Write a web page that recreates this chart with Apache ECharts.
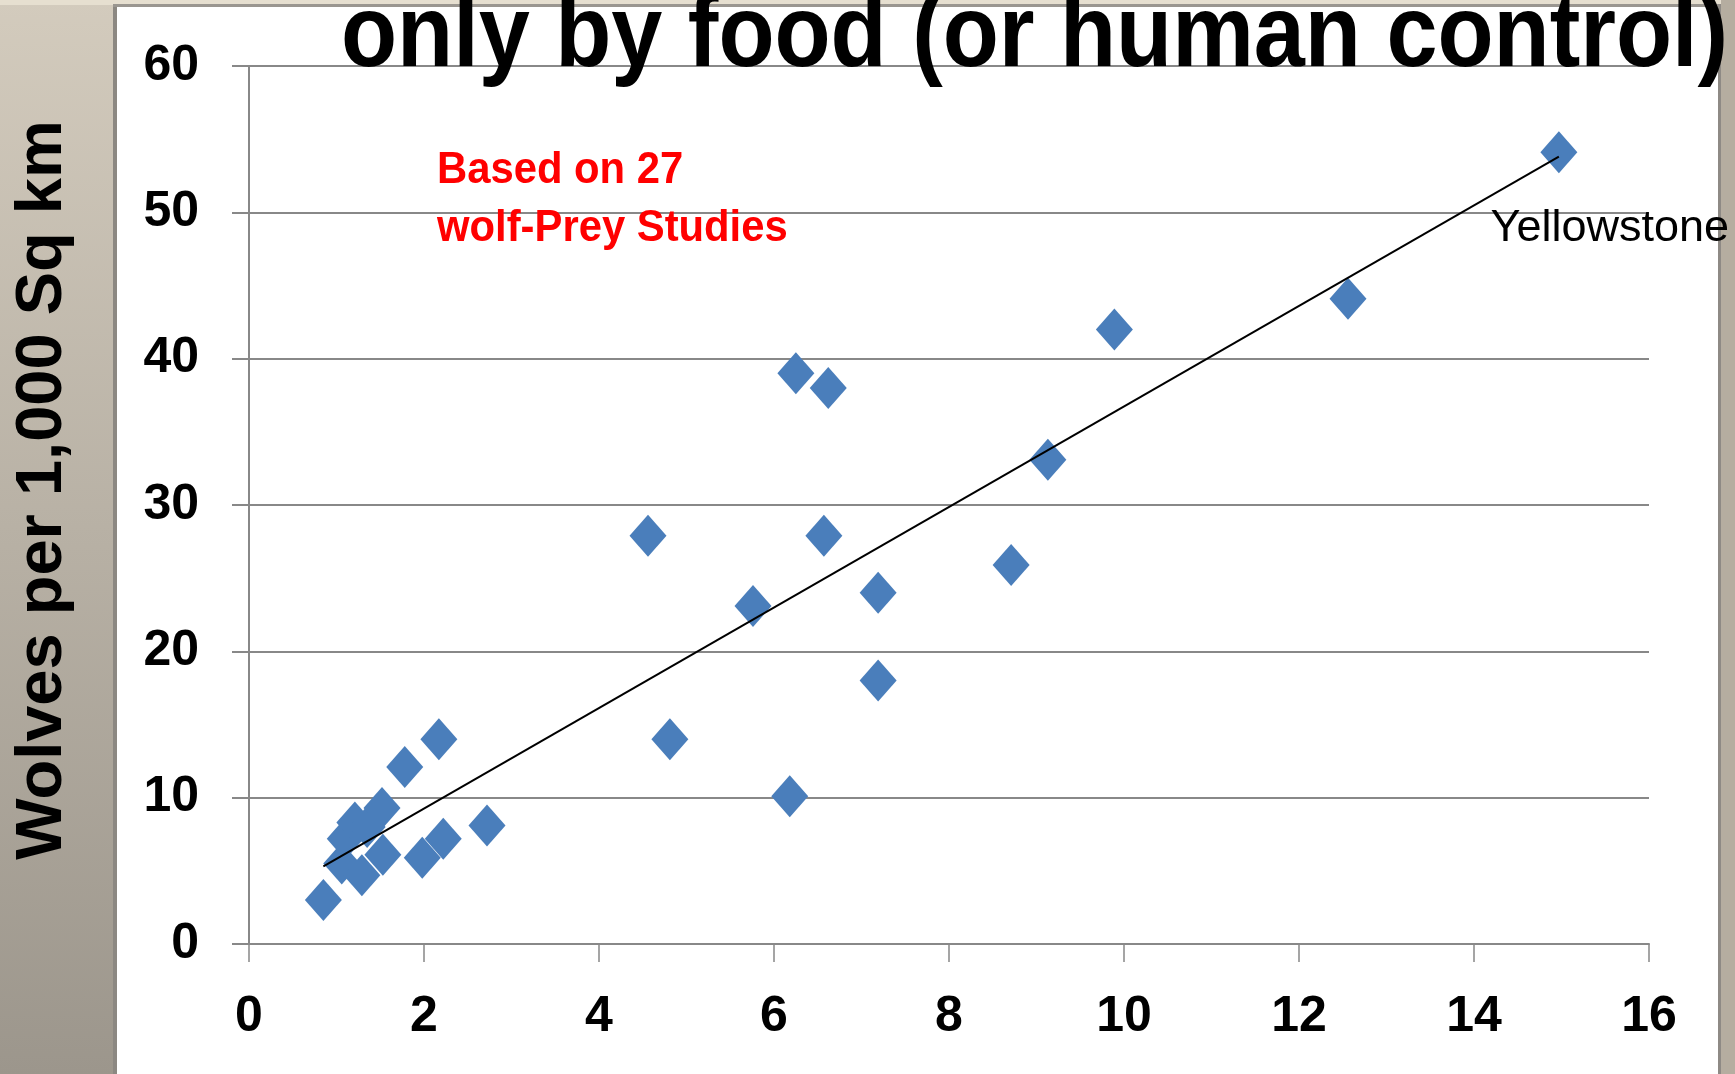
<!DOCTYPE html>
<html>
<head>
<meta charset="utf-8">
<title>Wolves vs prey</title>
<script src="https://cdn.jsdelivr.net/npm/echarts@6/dist/echarts.min.js"></script>
<style>
  html, body { margin: 0; padding: 0; background: #fff; }
  #main { width: 1735px; height: 1074px; }
</style>
</head>
<body>
<div id="main"></div>
<script>
// prey index (x) and wolves per 1,000 sq km (y)
var preyIndex   = [0.85, 1.06, 1.10, 1.21, 1.35, 1.29, 1.52, 1.53, 1.78, 2.17, 1.98, 2.22, 2.72,
                   4.56, 4.81, 5.76, 6.18, 6.25, 6.62, 6.57, 7.19, 7.19, 8.71, 9.13, 9.89, 12.56, 14.97];
var wolfDensity = [3.0, 5.5, 7.2, 8.3, 8.0, 4.7, 9.3, 6.1, 12.1, 14.0, 5.9, 7.2, 8.1,
                   27.9, 14.0, 23.1, 10.1, 39.0, 38.0, 27.9, 24.0, 18.0, 25.9, 33.1, 42.0, 44.1, 54.1];
// trend line end points
var trendX = [0.85, 14.97];
var trendY = [5.3, 53.8];
var xTicks = [0, 2, 4, 6, 8, 10, 12, 14, 16];
var yTicks = [0, 10, 20, 30, 40, 50, 60];
var labelName = 'Yellowstone';

var chart = echarts.init(document.getElementById('main'));

var points = [];
for (var i = 0; i < preyIndex.length; i++) {
    var item = { value: [preyIndex[i], wolfDensity[i]] };
    if (i === preyIndex.length - 1) {
        item.label = {
            show: true,
            formatter: labelName,
            position: 'inside',
            offset: [51, 76],
            color: '#000',
            fontFamily: 'Liberation Sans',
            fontSize: 45
        };
    }
    points.push(item);
}
var trend = [];
for (var j = 0; j < trendX.length; j++) trend.push([trendX[j], trendY[j]]);

var axisFont = { color: '#000', fontFamily: 'Liberation Sans', fontWeight: 'bold', fontSize: 50 };

option = {
    backgroundColor: '#fff',
    animation: false,
    grid: { left: 249, right: 86, top: 66, bottom: 130 },
    xAxis: {
        type: 'value',
        min: xTicks[0],
        max: xTicks[xTicks.length - 1],
        interval: 2,
        axisLine: { lineStyle: { color: '#888', width: 2 } },
        axisTick: { show: true, length: 18, lineStyle: { color: '#888', width: 1.5 } },
        axisLabel: Object.assign({ margin: 48 }, axisFont),
        splitLine: { show: false }
    },
    yAxis: {
        type: 'value',
        min: yTicks[0],
        max: yTicks[yTicks.length - 1],
        interval: 10,
        axisLine: { show: true, lineStyle: { color: '#888', width: 2 } },
        axisTick: { show: true, length: 17, lineStyle: { color: '#888', width: 2 } },
        axisLabel: Object.assign({ margin: 50 }, axisFont),
        splitLine: { show: true, lineStyle: { color: '#888', width: 2 } }
    },
    graphic: [
        { type: 'rect', z: 1, shape: { x: 0, y: 0, width: 114, height: 1074 },
          style: { fill: new echarts.graphic.LinearGradient(0, 0, 0, 1, [
              { offset: 0, color: '#d3cbbd' }, { offset: 1, color: '#9c968c' }]) } },
        { type: 'rect', z: 1, shape: { x: 113, y: 0, width: 4, height: 1074 }, style: { fill: '#8c8882' } },
        { type: 'rect', z: 1, shape: { x: 0, y: 0, width: 1735, height: 5 }, style: { fill: '#e6dfd0' } },
        { type: 'rect', z: 1, shape: { x: 113, y: 4, width: 1610, height: 3 }, style: { fill: '#9a9690' } },
        { type: 'rect', z: 1, shape: { x: 1721, y: 0, width: 14, height: 1074 }, style: { fill: '#b5ada0' } },
        { type: 'rect', z: 1, shape: { x: 1718, y: 4, width: 3, height: 1070 }, style: { fill: '#8e8a85' } },
        { type: 'text', z: 100, x: 341, y: 38, scaleX: 0.9,
          style: { text: 'only by food (or human control)', x: 0, y: 0, fill: '#000',
                   font: 'bold 102px "Liberation Sans"', align: 'left', verticalAlign: 'middle' } },
        { type: 'text', z: 100, x: 43, y: 490, rotation: Math.PI / 2,
          style: { text: 'Wolves per 1,000 Sq km', x: 0, y: 0, fill: '#000',
                   font: 'bold 65px "Liberation Sans"', align: 'center', verticalAlign: 'middle' } },
        { type: 'text', z: 100, x: 437, y: 171, scaleX: 0.95,
          style: { text: 'Based on 27', x: 0, y: 0, fill: '#ff0000',
                   font: 'bold 44px "Liberation Sans"', align: 'left', verticalAlign: 'middle' } },
        { type: 'text', z: 100, x: 437, y: 229, scaleX: 0.95,
          style: { text: 'wolf-Prey Studies', x: 0, y: 0, fill: '#ff0000',
                   font: 'bold 44px "Liberation Sans"', align: 'left', verticalAlign: 'middle' } }
    ],
    series: [
        {
            type: 'scatter',
            symbol: 'diamond',
            symbolSize: [37, 42],
            itemStyle: { color: '#4a7ebb', opacity: 1 },
            data: points,
            z: 3
        },
        {
            type: 'line',
            data: trend,
            symbol: 'none',
            lineStyle: { color: '#000', width: 2 },
            z: 4
        }
    ]
};
chart.setOption(option);
</script>
</body>
</html>
